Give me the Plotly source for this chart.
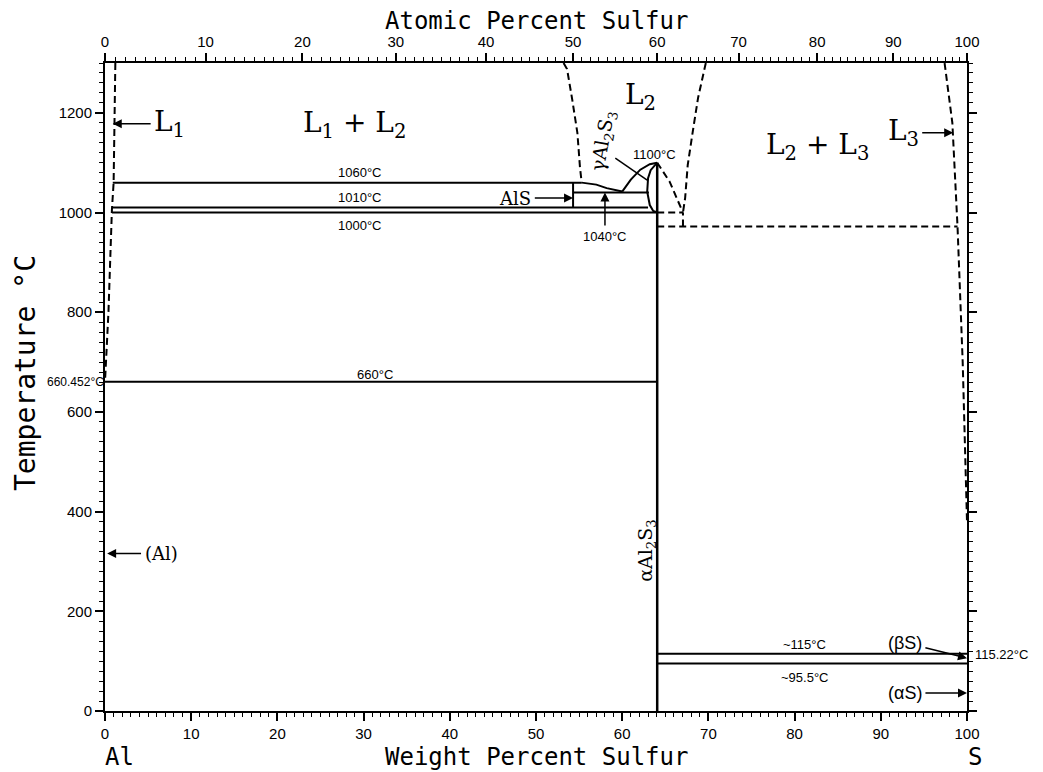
import plotly.graph_objects as go

# ---------------- data (weight % S, temperature °C) ----------------
L1_wt = [1.2, 1.0, 0.8, 0.4, 0.0]
L1_T = [1300, 1060, 1005, 800, 660.452]

L2_left_wt = [53.2, 53.6, 54.2, 54.8, 55.1, 55.3]
L2_left_T = [1300, 1288, 1227, 1160, 1091, 1060]

L2_right_wt = [69.7, 68.8, 68.2, 67.6, 67.3, 67.05]
L2_right_T = [1300, 1230, 1164, 1095, 1029, 1000]

L2_liq_wt = [64.06, 65.5, 67.05]
L2_liq_T = [1100, 1062, 1000]

L3_wt = [97.4, 98.3, 98.9, 99.5, 100.0]
L3_T = [1300, 1180, 972, 700, 380]

mono_curve_wt = [55.3, 57.0, 58.2, 60.0]
mono_curve_T = [1060, 1056, 1049, 1042]

gamma_left_wt = [60.0, 61.0, 62.1, 63.2, 64.06]
gamma_left_T = [1042, 1066, 1086, 1097, 1100]

gamma_inner_wt = [64.06, 63.3, 63.0, 62.9, 63.2, 63.6, 64.06]
gamma_inner_T = [1100, 1085, 1069, 1042, 1015, 1003, 1000]

# horizontal invariant lines: (start wt, end wt, temperature)
solid_h = {
    "1060": (0.9, 55.3, 1060),
    "1040": (54.3, 63.1, 1040),
    "1010": (0.8, 63.0, 1010),
    "1000": (0.8, 64.06, 1000),
    "660": (0.0, 64.06, 660.452),
    "115": (64.06, 100.0, 115),
    "95.5": (64.06, 100.0, 95.5),
}
dashed_h = {
    "1000d": (64.06, 67.05, 1000),
    "972": (64.06, 98.9, 972),
}
# vertical lines: (wt, T start, T end)
solid_v = {
    "AlS": (54.3, 1010, 1060),
    "Al2S3": (64.06, 0, 1100),
}
dashed_v = {
    "mono": (67.05, 972, 1000),
}

wt_ticks = list(range(0, 101, 10))
T_ticks = list(range(0, 1201, 200))
at_ticks = list(range(0, 101, 10))

M_AL, M_S = 26.98, 32.06


def at_to_wt(a):
    return 100.0 * a * M_S / (a * M_S + (100 - a) * M_AL)


fig = go.Figure()
BLK = "black"


def add_line(x, y, dash=None, width=2):
    fig.add_trace(go.Scatter(x=x, y=y, mode="lines",
                             line=dict(color=BLK, width=width, dash=dash),
                             hoverinfo="skip", showlegend=False))


DASH = "7px,4px"
add_line(L1_wt, L1_T, DASH)
add_line(L2_left_wt, L2_left_T, DASH)
add_line(L2_right_wt, L2_right_T, DASH)
add_line(L2_liq_wt, L2_liq_T, DASH)
add_line(L3_wt, L3_T, DASH)
add_line(mono_curve_wt, mono_curve_T)
add_line(gamma_left_wt, gamma_left_T)
add_line(gamma_inner_wt, gamma_inner_T)
for k, (a, b, t) in solid_h.items():
    add_line([a, b], [t, t])
for k, (a, b, t) in dashed_h.items():
    add_line([a, b], [t, t], DASH)
for k, (w, t0, t1) in solid_v.items():
    add_line([w, w], [t0, t1], width=2.5 if k == "Al2S3" else 2)
for k, (w, t0, t1) in dashed_v.items():
    add_line([w, w], [t0, t1], DASH)
# leader line for gamma label
add_line([59.2, 62.9], [1109, 1065], width=1.5)

# invisible trace on top axis
fig.add_trace(go.Scatter(x=[0, 100], y=[0, 0], xaxis="x2", mode="markers",
                         marker=dict(opacity=0), hoverinfo="skip", showlegend=False))

SERIF = "DejaVu Serif"
SANS = "Liberation Sans"
MONO = "DejaVu Sans Mono"

annots = []


def txt(x, y, s, size=13, family=SANS, angle=0, **kw):
    d = dict(x=x, y=y, text=s, showarrow=False, textangle=angle,
             font=dict(size=size, family=family, color=BLK))
    d.update(kw)
    annots.append(d)


def arrow(x, y, ax, ay, s, size=13, family=SANS):
    annots.append(dict(x=x, y=y, ax=ax, ay=ay, axref="x", ayref="y", text=s,
                       showarrow=True, arrowhead=2, arrowsize=1.2, arrowwidth=1.5,
                       arrowcolor=BLK, standoff=0, startstandoff=2,
                       font=dict(size=size, family=family, color=BLK)))


txt(29.0, 1176, "L<sub>1</sub> + L<sub>2</sub>", 28, SERIF)
txt(62.1, 1232, "L<sub>2</sub>", 28, SERIF)
txt(82.7, 1133, "L<sub>2</sub> + L<sub>3</sub>", 28, SERIF)
arrow(0.9, 1178, 7.5, 1178, "L<sub>1</sub>", 28, SERIF)
arrow(98.4, 1160, 92.6, 1160, "L<sub>3</sub>", 28, SERIF)
arrow(0.25, 316, 6.5, 316, "(Al)", 18, SERIF)
arrow(54.3, 1029, 47.6, 1029, "AlS", 18, SERIF)
arrow(100, 106, 92.8, 137, "(βS)", 18, SANS)
arrow(100, 36, 92.8, 36, "(αS)", 18, SANS)
arrow(58.0, 1040, 58.0, 952, "1040°C", 13)
txt(57.8, 1143, "γAl<sub>2</sub>S<sub>3</sub>", 19, SERIF, angle=-80)
txt(62.8, 322, "αAl<sub>2</sub>S<sub>3</sub>", 19, SERIF, angle=-90)

txt(29.6, 1080, "1060°C")
txt(29.6, 1031, "1010°C")
txt(29.6, 975, "1000°C")
txt(31.3, 676, "660°C")
txt(63.8, 1116, "1100°C")
txt(81.2, 133, "~115°C")
txt(81.2, 68, "~95.5°C")
txt(0, 660.452, "660.452°C", 12, xanchor="right", xshift=1)
txt(100, 113, "115.22°C", 13, xanchor="left", xshift=6)

# axis titles and element labels (paper coords)
txt(0.5, 1.0, "Atomic Percent Sulfur", 24, MONO, xref="paper", yref="paper",
    xanchor="center", yanchor="middle", yshift=42)
txt(0.5, 0, "Weight Percent Sulfur", 24, MONO, xref="paper", yref="paper",
    xanchor="center", yanchor="middle", yshift=-46)
txt(0.017, 0, "Al", 24, MONO, xref="paper", yref="paper",
    xanchor="center", yanchor="middle", yshift=-46)
txt(1.009, 0, "S", 24, MONO, xref="paper", yref="paper",
    xanchor="center", yanchor="middle", yshift=-46)
txt(0, 0.5, "Temperature °C", 28, MONO, angle=-90, xref="paper", yref="paper",
    xanchor="center", yanchor="middle", xshift=-80, yshift=14)

# the page body adds an 8px margin, so the figure is shrunk by 8px
fig.update_layout(
    width=1035, height=764,
    margin=dict(l=97, r=76, t=55, b=61),
    paper_bgcolor="white", plot_bgcolor="white",
    showlegend=False,
    annotations=annots,
    xaxis=dict(range=[0, 100], tickvals=wt_ticks, showgrid=False, zeroline=False,
               showline=True, linecolor=BLK, linewidth=2, ticks="outside",
               ticklen=8, tickwidth=1.5, tickcolor=BLK,
               tickfont=dict(family=SANS, size=15, color=BLK),
               minor=dict(dtick=1, ticks="outside", ticklen=4, tickcolor=BLK, tickwidth=1)),
    xaxis2=dict(range=[0, 100], overlaying="x", side="top",
                tickvals=[at_to_wt(a) for a in at_ticks],
                ticktext=[str(a) for a in at_ticks],
                showgrid=False, zeroline=False, showline=True, linecolor=BLK, linewidth=2,
                ticks="outside", ticklen=8, tickwidth=1.5, tickcolor=BLK,
                tickfont=dict(family=SANS, size=15, color=BLK),
                minor=dict(tickmode="array",
                           tickvals=[at_to_wt(a) for a in range(0, 101) if a % 10],
                           ticks="outside", ticklen=4, tickcolor=BLK, tickwidth=1)),
    yaxis=dict(range=[0, 1300], tickvals=T_ticks, showgrid=False, zeroline=False,
               showline=True, linecolor=BLK, linewidth=2, mirror="ticks",
               ticks="outside", ticklen=8, tickwidth=1.5, tickcolor=BLK,
               tickfont=dict(family=SANS, size=15, color=BLK),
               minor=dict(dtick=20, ticks="outside", ticklen=4, tickcolor=BLK, tickwidth=1)),
)

fig.write_html("out.html")
